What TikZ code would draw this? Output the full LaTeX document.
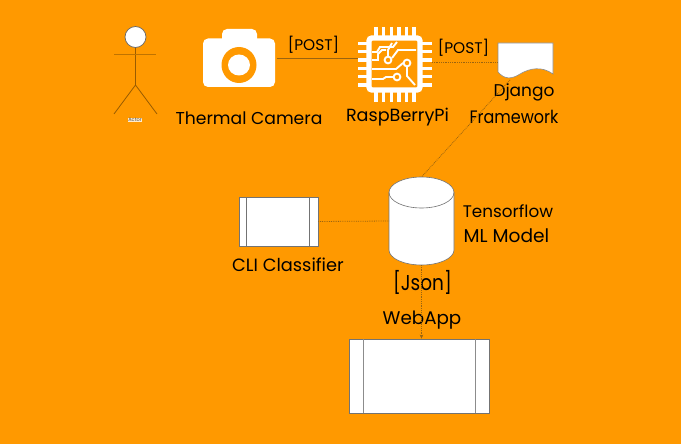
\documentclass[tikz,border=0pt]{standalone}
\usepackage{fontspec}
\setmainfont{Poppins}
\usetikzlibrary{arrows.meta}
\definecolor{bg}{HTML}{FF9900}
\definecolor{wire}{HTML}{9A6410}
\newcommand{\fsz}[1]{\fontsize{#1}{#1}\selectfont}
\tikzset{
 lab/.style={inner sep=0pt,text=black},
 proc/.style={draw=black!55,line width=.8pt,fill=white,rectangle,inner sep=0pt},
 solidwire/.style={draw=wire,line width=.7pt},
 dotwire/.style={draw=wire,line width=.8pt,densely dotted},
 anchorbox/.style={inner sep=0pt,outer sep=0pt,rectangle},
 pin/.style={draw=white,line width=3.4pt},
 trace/.style={draw=white,line width=1.9pt},
 pad/.style={draw=white,line width=1.9pt,fill=bg},
 dbline/.style={draw=black!55,line width=.6pt},
}
\begin{document}
\begin{tikzpicture}[x=1pt,y=-1pt]
\useasboundingbox (0,0) rectangle (681,444);
\fill[bg] (0,0) rectangle (681,444);
% actor
\coordinate (hip) at (135.5,85);
\coordinate (armL) at (114,55);\coordinate (armR) at (156,55);
\coordinate (footL) at (114,114);\coordinate (footR) at (157,114);
\draw[draw=black!40!bg,line width=.8pt] (135.5,37) -- (hip) -- (footL) (hip) -- (footR);
\draw[draw=black!25!bg,line width=1pt] (armL) -- (armR);
\node[circle,draw=black!60,fill=white,line width=.7pt,minimum size=21pt,inner sep=0pt] (head) at (135.5,37) {};
\node[fill=white!80!bg,inner sep=.5pt,font=\fsz{5},text=black!70] (actor) at (135,120) {Actor};
% camera
\node[anchorbox,minimum width=72pt,minimum height=58pt] (cam) at (239,58) {};
\fill[white,rounded corners=5pt] (203,38.5) rectangle (275,87);
\fill[white,rounded corners=5pt] (222,29) rectangle (257,50);
\fill[bg] (239,65) ellipse (17.5pt and 18pt);
\fill[white] (239,65) ellipse (11pt and 10.5pt);
\node[lab,font=\fsz{17.2}] (camlab) at (249,118) {Thermal Camera};
% chip
\node[anchorbox,minimum width=74pt,minimum height=75pt] (chip) at (395,64.5) {};
\foreach \p in {0,...,5}{
 \draw[pin] (376+\p*7.6,27) -- (376+\p*7.6,37);
 \draw[pin] (376+\p*7.6,92) -- (376+\p*7.6,102);
 \draw[pin] (358,43.5+\p*8.3) -- (368,43.5+\p*8.3);
 \draw[pin] (422,43.5+\p*8.3) -- (432,43.5+\p*8.3);
}
\draw[draw=white,line width=5.4pt,rounded corners=3pt] (369,38) rectangle (420,90);
\draw[trace] (372,52) -- (377,52) -- (380,47) -- (393,47) -- (397,42);
\draw[trace] (372,60) -- (378,60) -- (378,54) -- (382,50) -- (386,50);
\draw[trace] (388,56) -- (388,50) -- (392,43);
\draw[trace] (392,58) -- (398,50) -- (416,50);
\draw[trace] (403,63) -- (396,69) -- (372,69);
\draw[trace] (407,67) -- (407,76) -- (415,85);
\draw[trace] (393,77) -- (386,77) -- (383,79) -- (372,79);
\draw[pad] (388,60) circle (3.4pt);
\draw[pad] (407,63) circle (3.4pt);
\draw[pad] (397,77) circle (3.4pt);
\node[lab,font=\fsz{17.6}] (chiplab) at (397.5,117) {RaspBerryPi};
% document
\node[anchorbox,minimum width=55pt,minimum height=37pt] (doc) at (525.5,60.5) {};
\filldraw[fill=white,draw=black!45,line width=.6pt] (498,43) -- (553,43) -- (553,74)
 .. controls (542,66) and (530,68) .. (520,74) .. controls (512,79) and (505,80) .. (498,72) -- cycle;
\node[lab,font=\fsz{17}] (djlab) at (524,92) {Django};
\node[lab,font=\fsz{18},xscale=.89] (frlab) at (514,117) {Framework};
% cylinder
\node[anchorbox,minimum width=65pt,minimum height=88pt] (db) at (421.5,221) {};
\filldraw[fill=white,dbline] (389,192.5) arc[start angle=180,end angle=0,x radius=32.5pt,y radius=15.5pt]
 -- (454,250) arc[start angle=0,end angle=-180,x radius=32.5pt,y radius=15pt] -- cycle;
\draw[dbline] (389,192.5) arc[start angle=180,end angle=360,x radius=32.5pt,y radius=15.5pt];
\node[lab,font=\fsz{16.8}] (tflab) at (508,211) {Tensorflow};
\node[lab,font=\fsz{18.6}] (mllab) at (506.5,236) {ML Model};
% CLI
\node[proc,minimum width=79pt,minimum height=49pt] (cli) at (278.5,221.5) {};
\draw[draw=black!55,line width=.7pt] (246,197) -- (246,246) (309,197) -- (309,246);
\node[lab,font=\fsz{17.8}] (clilab) at (288,265) {CLI Classifier};
% webapp
\node[proc,minimum width=140pt,minimum height=74pt] (web) at (419,376) {};
\draw[draw=black!45,line width=.7pt] (363,339) -- (363,413) (475,339) -- (475,413);
\node[lab,font=\fsz{18.3}] (weblab) at (422,320) {WebApp};
\node[lab,font=\fsz{21.5},xscale=.86] (json) at (422.5,282) {[Json]};
% connectors
\draw[solidwire] (cam.east) ++(2,0) coordinate (camout) -- (camout -| chip.west);
\draw[dotwire] (chip.east) ++(0,-2.5) coordinate (chipout) -- (chipout -| doc.west);
\coordinate (docout) at (510,80);
\draw[dotwire] (docout) -- (db.north);
\draw[dotwire] (cli.east) -- (db.west);
\draw[dotwire,-{Stealth[length=4pt,width=3.5pt]}] (db.south) -- (web.north -| db.south);
\node[lab,font=\fsz{15.4}] (post1) at (313.5,45) {[POST]};
\node[lab,font=\fsz{15.4}] (post2) at (463.5,48) {[POST]};
\end{tikzpicture}
\end{document}
